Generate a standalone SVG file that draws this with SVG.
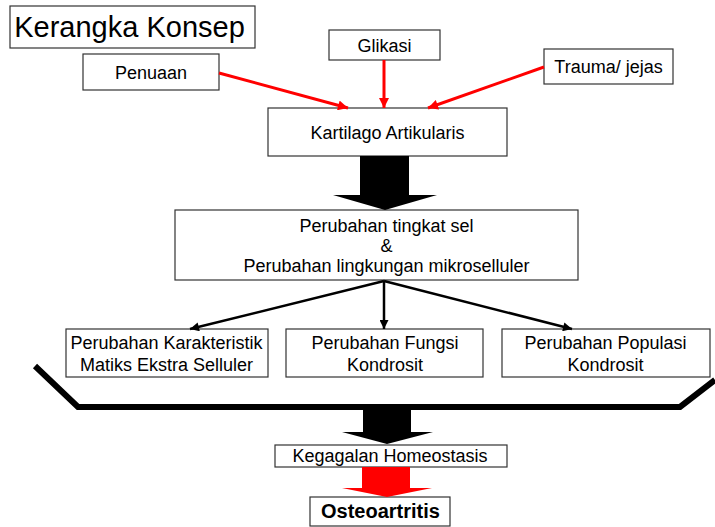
<svg xmlns="http://www.w3.org/2000/svg" width="715" height="527" viewBox="0 0 715 527">
<style>
.box{fill:#fff;stroke:#333;stroke-width:1.2}
text{font-family:"Liberation Sans",Arial,sans-serif;fill:#000;text-anchor:middle}
.t{font-size:18px}
.red{stroke:#ff0000;stroke-width:3;fill:none}
.blk{stroke:#000;stroke-width:2.5;fill:none}
</style>
<defs>
<marker id="ra" viewBox="0 0 10 10" refX="10" refY="5" markerWidth="12" markerHeight="10" markerUnits="userSpaceOnUse" orient="auto"><path d="M0,0 L10,5 L0,10 z" fill="#ff0000"/></marker>
<marker id="ba" viewBox="0 0 10 10" refX="10" refY="5" markerWidth="11" markerHeight="9" markerUnits="userSpaceOnUse" orient="auto"><path d="M0,0 L10,5 L0,10 z" fill="#000"/></marker>
</defs>
<rect width="715" height="527" fill="#fff"/>
<g id="title"><rect class="box" x="10" y="6" width="245" height="42"/><text x="129.5" y="37" style="font-size:29px">Kerangka Konsep</text></g>
<g id="penuaan"><rect class="box" x="83" y="54" width="136" height="36"/><text class="t" x="151" y="79">Penuaan</text></g>
<g id="glikasi"><rect class="box" x="329" y="30" width="111" height="30"/><text class="t" x="384.5" y="52">Glikasi</text></g>
<g id="trauma"><rect class="box" x="544" y="49" width="129" height="35"/><text class="t" x="608.5" y="73">Trauma/ jejas</text></g>
<g id="kartilago"><rect class="box" x="268" y="108" width="239" height="48"/><text class="t" x="387.5" y="139">Kartilago Artikularis</text></g>
<g id="perubahan-sel"><rect class="box" x="175" y="210" width="403" height="70"/>
<text class="t" x="386.5" y="232">Perubahan tingkat sel</text>
<text class="t" x="386.5" y="252">&amp;</text>
<text class="t" x="386.5" y="272">Perubahan lingkungan mikroselluler</text></g>
<g id="karakteristik"><rect class="box" x="66" y="329" width="202" height="48"/>
<text class="t" x="166.5" y="349">Perubahan Karakteristik</text>
<text class="t" x="166.5" y="371">Matiks Ekstra Selluler</text></g>
<g id="fungsi"><rect class="box" x="286" y="329" width="197" height="48"/>
<text class="t" x="385" y="349">Perubahan Fungsi</text>
<text class="t" x="385" y="371">Kondrosit</text></g>
<g id="populasi"><rect class="box" x="502" y="329" width="208" height="48"/>
<text class="t" x="605.5" y="349">Perubahan Populasi</text>
<text class="t" x="605.5" y="371">Kondrosit</text></g>
<g id="kegagalan"><rect class="box" x="275" y="445" width="232" height="22"/><text class="t" x="390" y="462">Kegagalan Homeostasis</text></g>
<g id="osteoartritis"><rect class="box" x="310" y="497" width="140" height="29"/><text x="380.5" y="518" style="font-size:20px;font-weight:bold">Osteoartritis</text></g>
<g id="connectors">
<line class="red" x1="219" y1="73" x2="348" y2="108" marker-end="url(#ra)"/>
<line class="red" x1="384" y1="60" x2="384" y2="108" marker-end="url(#ra)"/>
<line class="red" x1="544" y1="67" x2="428" y2="108" marker-end="url(#ra)"/>
<path d="M360,156 H409 V195 H437 L385,210 L333,195 H360 Z" fill="#000"/>
<line class="blk" x1="384" y1="281" x2="190" y2="329" marker-end="url(#ba)"/>
<line class="blk" x1="384" y1="281" x2="384" y2="329" marker-end="url(#ba)"/>
<line class="blk" x1="384" y1="281" x2="572" y2="329" marker-end="url(#ba)"/>
<path d="M35,366 L78,407 H680 L715,380" fill="none" stroke="#000" stroke-width="6"/>
<path d="M363,407 H411 V432 H433 L387,444 L342,432 H363 Z" fill="#000"/>
<path d="M362,467 H410 V488 H432 L387,497 L342,488 H362 Z" fill="#ff0000"/>
</g>
</svg>
